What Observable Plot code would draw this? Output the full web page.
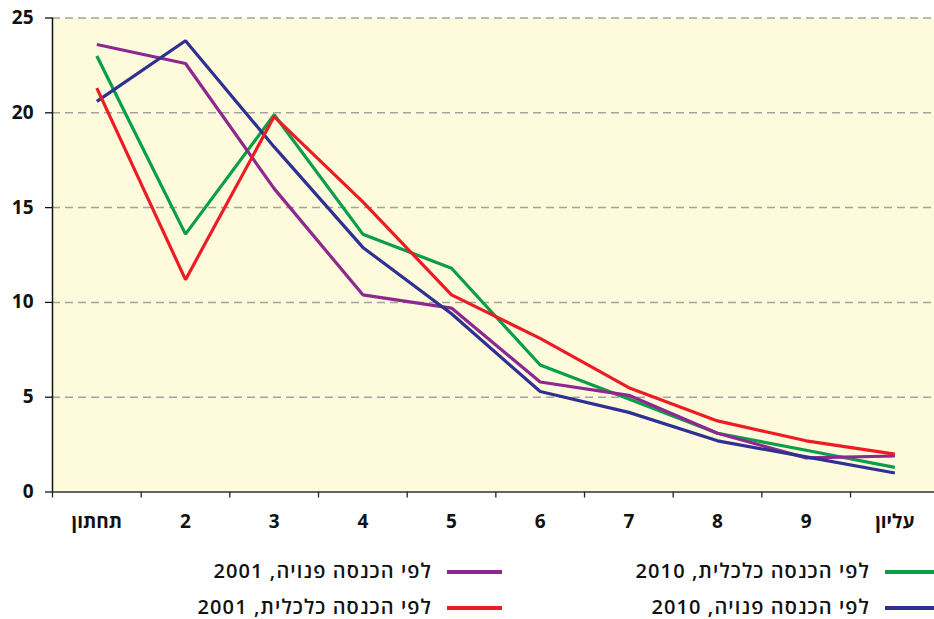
<!DOCTYPE html>
<html><head><meta charset="utf-8">
<script src="https://cdn.jsdelivr.net/npm/d3@7"></script>
<script src="https://cdn.jsdelivr.net/npm/@observablehq/plot@0.6"></script>
<style>
html,body{margin:0;padding:0;background:#fff;overflow:hidden}
#wrap{position:relative;width:934px;height:619px;font-family:"Open Sans","DejaVu Sans",sans-serif}
#chart svg{display:block}
.legtxt{position:absolute;direction:rtl;font-size:20px;font-weight:600;letter-spacing:1.1px;color:#111;line-height:26px;white-space:nowrap}
.legsw{position:absolute;height:3.5px}
</style>
</head><body>
<div id="wrap"><div id="chart"></div></div>
<script>
// Categories (deciles)
const categories = ["תחתון","2","3","4","5","6","7","8","9","עליון"];
// Series values
const econ2010 = [23.0, 13.6, 19.9, 13.6, 11.8, 6.7, 4.9, 3.1, 2.2, 1.3];   // לפי הכנסה כלכלית, 2010
const disp2001 = [23.6, 22.6, 16.0, 10.4, 9.7, 5.8, 5.1, 3.1, 1.8, 1.9];    // לפי הכנסה פנויה, 2001
const disp2010 = [20.6, 23.8, 18.2, 12.9, 9.4, 5.3, 4.2, 2.7, 1.85, 1.0];  // לפי הכנסה פנויה, 2010
const econ2001 = [21.3, 11.2, 19.8, 15.3, 10.4, 8.1, 5.5, 3.75, 2.7, 2.0]; // לפי הכנסה כלכלית, 2001
const seriesNames = ["לפי הכנסה כלכלית, 2010","לפי הכנסה פנויה, 2001","לפי הכנסה פנויה, 2010","לפי הכנסה כלכלית, 2001"];
const seriesValues = [econ2010, disp2001, disp2010, econ2001];
const seriesColors = ["#0a9e4b","#8e278f","#2e3192","#ed1c24"];
const yTicks = [0, 5, 10, 15, 20, 25];
const gridValues = [5, 10, 15, 20, 25];

const rows = [];
seriesValues.forEach((vals, s) => vals.forEach((v, i) => rows.push({series: seriesNames[s], i, v})));
const idx = categories.map((_, i) => i);
const bounds = d3.range(categories.length + 1).map(i => i - 0.5);

const font = `"Open Sans","DejaVu Sans",sans-serif`;
const chart = Plot.plot({
  width: 934, height: 540,
  marginLeft: 52, marginRight: 0, marginTop: 17.5, marginBottom: 48.5,
  style: {fontFamily: font, fontSize: "19px", fontWeight: 700, color: "#111", background: "#fff"},
  x: {type: "linear", domain: [-0.5, categories.length - 0.5], range: [52, 938.7]},
  y: {domain: [0, 25], range: [491.5, 17.5]},
  color: {domain: seriesNames, range: seriesColors},
  marks: [
    Plot.frame({fill: "#fefadc", stroke: null}),
    Plot.ruleY(gridValues, {stroke: "#a3a3a3", strokeWidth: 1.5, strokeDasharray: "8,5"}),
    Plot.axisY({ticks: yTicks, tickSize: 7, tickPadding: 12, tickFormat: d => d, stroke: "#111", strokeWidth: 1.3, fontSize: 19, fontWeight: 700, label: null}),
    Plot.axisX({ticks: bounds, tickSize: 6, tickFormat: () => "", stroke: "#222", strokeWidth: 1.3, label: null}),
    Plot.axisX({ticks: idx, tickSize: 0, tickPadding: 22, tickFormat: i => categories[i], fontSize: 19, fontWeight: 700, label: null}),
    Plot.ruleY([0], {stroke: "#333", strokeWidth: 1.5}),
    Plot.ruleX([-0.5], {y1: 0, y2: 25, stroke: "#111", strokeWidth: 1.5}),
    Plot.lineY(rows, {x: "i", y: "v", z: "series", stroke: "series", strokeWidth: 3.2, strokeLinejoin: "miter", strokeLinecap: "butt"})
  ]
});
document.getElementById("chart").appendChild(chart);

// Legend below the SVG (two columns, RTL)
const wrap = document.getElementById("wrap");
const legendLayout = [
  {s: 0, textRight: 870, swX: 885, swW: 60, y: 572},
  {s: 2, textRight: 870, swX: 885, swW: 60, y: 608},
  {s: 1, textRight: 432, swX: 447, swW: 55, y: 572},
  {s: 3, textRight: 432, swX: 447, swW: 55, y: 608}
];
legendLayout.forEach(L => {
  const t = document.createElement("div");
  t.className = "legtxt";
  t.textContent = seriesNames[L.s];
  t.style.right = (934 - L.textRight) + "px";
  t.style.top = (L.y - 14) + "px";
  wrap.appendChild(t);
  const sw = document.createElement("div");
  sw.className = "legsw";
  sw.style.left = L.swX + "px";
  sw.style.width = L.swW + "px";
  sw.style.top = (L.y - 1.75) + "px";
  sw.style.background = seriesColors[L.s];
  wrap.appendChild(sw);
});
</script>
</body></html>
